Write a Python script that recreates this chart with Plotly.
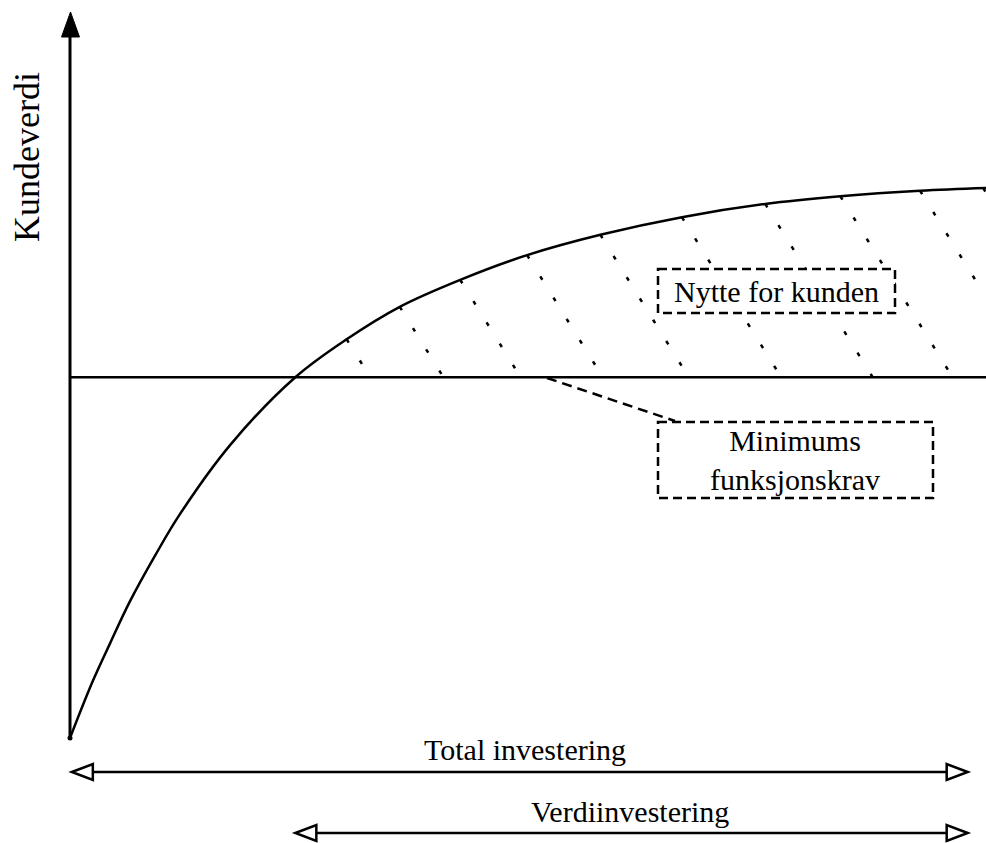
import numpy as np
import plotly.graph_objects as go

# ---- data (abstract units: investment 0-100, customer value 0-100) ----
curve_x = [0, 2.5, 4.4, 6.5, 9.3, 12.0, 17.5, 24.6, 30.2, 36.0, 42.6, 49.9, 57.9, 66.8, 75.9, 84.1, 92.8, 100]
curve_y = [0, 10.4, 17.3, 24.7, 33.2, 40.7, 53.3, 65.6, 72.5, 78.4, 83.3, 87.8, 91.5, 94.7, 97.1, 98.5, 99.5, 100]
minimum_level = 65.6
hatch_top_x = [30.2, 36.0, 42.6, 49.9, 57.9, 66.8, 75.9, 84.1, 92.8, 99.7]
total_start, total_end = 0.2, 98.0
value_start, value_end = 24.6, 98.0

labels = {
    "y": "Kundeverdi",
    "benefit": "Nytte for kunden",
    "minimum": "Minimums<br>funksjonskrav",
    "total": "Total investering",
    "value": "Verdiinvestering",
}

# ---- canvas mapping ----
W, H = 986, 843
X0, XS = 70, 9.16   # pixel of x=0, pixels per unit
Y0, YS = 738, 5.5   # pixel of y=0, pixels per unit

def dx(px):
    return (px - X0) / XS

def dy(py):
    return (Y0 - py) / YS

def ux(v):
    return X0 + v * XS

def uy(v):
    return Y0 - v * YS

FONT = "Liberation Serif, Times New Roman, serif"
fig = go.Figure()

# hatch lines (dotted, slanting down-right)
slope = 0.62  # px right per px down
for xt in hatch_top_x:
    yt = float(np.interp(xt, curve_x, curve_y))
    drop_px = uy(minimum_level) - uy(yt)
    xe_px = ux(xt) + slope * drop_px
    ye_px = uy(minimum_level)
    if xe_px > W:
        ye_px = uy(yt) + (W - ux(xt)) / slope
        xe_px = W
    fig.add_trace(go.Scatter(
        x=[xt, dx(xe_px)], y=[yt, dy(ye_px)], mode="lines",
        line=dict(color="black", width=2.5, dash="4px,21px"),
        hoverinfo="skip", showlegend=False))

# minimum level line
fig.add_trace(go.Scatter(x=[0, 100], y=[minimum_level, minimum_level], mode="lines",
                         line=dict(color="black", width=2.5), hoverinfo="skip", showlegend=False))
# customer value curve
fig.add_trace(go.Scatter(x=curve_x, y=curve_y, mode="lines", line_shape="spline",
                         line=dict(color="black", width=2.5, smoothing=1.0),
                         hoverinfo="skip", showlegend=False))
fig.add_trace(go.Scatter(x=curve_x[:1], y=curve_y[:1], mode="markers",
                         marker=dict(color="black", size=5), hoverinfo="skip", showlegend=False))

shapes = []
# y axis with filled arrowhead
shapes.append(dict(type="line", x0=0, y0=0, x1=0, y1=dy(36), line=dict(color="black", width=3)))
def path(pts, close=True):
    s = "M " + " L ".join(f"{dx(a)},{dy(b)}" for a, b in pts)
    return s + (" Z" if close else "")
shapes.append(dict(type="path", path=path([(70.5, 12), (61.5, 37), (79.5, 37)]),
                   fillcolor="black", line=dict(color="black", width=1)))

# double arrows with open heads
def double_arrow(x_start, x_end, ypx):
    a, b = ux(x_start), ux(x_end)
    out = [dict(type="line", x0=dx(a + 21), y0=dy(ypx), x1=dx(b - 21), y1=dy(ypx),
                line=dict(color="black", width=2.5))]
    out.append(dict(type="path", path=path([(a, ypx), (a + 21, ypx - 8), (a + 21, ypx + 8)]),
                    fillcolor="white", line=dict(color="black", width=2.5)))
    out.append(dict(type="path", path=path([(b, ypx), (b - 21, ypx - 8), (b - 21, ypx + 8)]),
                    fillcolor="white", line=dict(color="black", width=2.5)))
    return out
shapes += double_arrow(total_start, total_end, 772)
shapes += double_arrow(value_start, value_end, 833)

# leader line
shapes.append(dict(type="line", x0=dx(547), y0=dy(378), x1=dx(675), y1=dy(421),
                   line=dict(color="black", width=2.5, dash="10px,6px")))
# boxes
shapes.append(dict(type="rect", x0=dx(658), y0=dy(269), x1=dx(895), y1=dy(313),
                   fillcolor="white", line=dict(color="black", width=2.5, dash="9px,5px")))
shapes.append(dict(type="rect", x0=dx(658), y0=dy(422), x1=dx(933), y1=dy(498),
                   fillcolor="white", line=dict(color="black", width=2.5, dash="9px,5px")))

ann = [
    dict(x=dx(27), y=dy(157), text=labels["y"], textangle=-90, font=dict(size=36)),
    dict(x=dx(776), y=dy(291), text=labels["benefit"], font=dict(size=30)),
    dict(x=dx(795), y=dy(460), text=labels["minimum"], font=dict(size=30)),
    dict(x=dx(525), y=dy(749), text=labels["total"], font=dict(size=30)),
    dict(x=dx(630), y=dy(811), text=labels["value"], font=dict(size=30)),
]
for a in ann:
    a.update(xref="x", yref="y", showarrow=False, xanchor="center", yanchor="middle")
    a["font"].update(family=FONT, color="black")

fig.update_layout(
    width=W, height=H, autosize=False,
    margin=dict(l=0, r=0, t=0, b=0, pad=0),
    paper_bgcolor="white", plot_bgcolor="white",
    xaxis=dict(range=[dx(0), dx(W)], visible=False, fixedrange=True),
    yaxis=dict(range=[dy(H), dy(0)], visible=False, fixedrange=True),
    shapes=shapes, annotations=ann, showlegend=False,
    font=dict(family=FONT, color="black"),
)

fig.write_html("out.html", config={"displayModeBar": False},
               post_script="document.body.style.margin='0';document.body.style.overflow='hidden';")
